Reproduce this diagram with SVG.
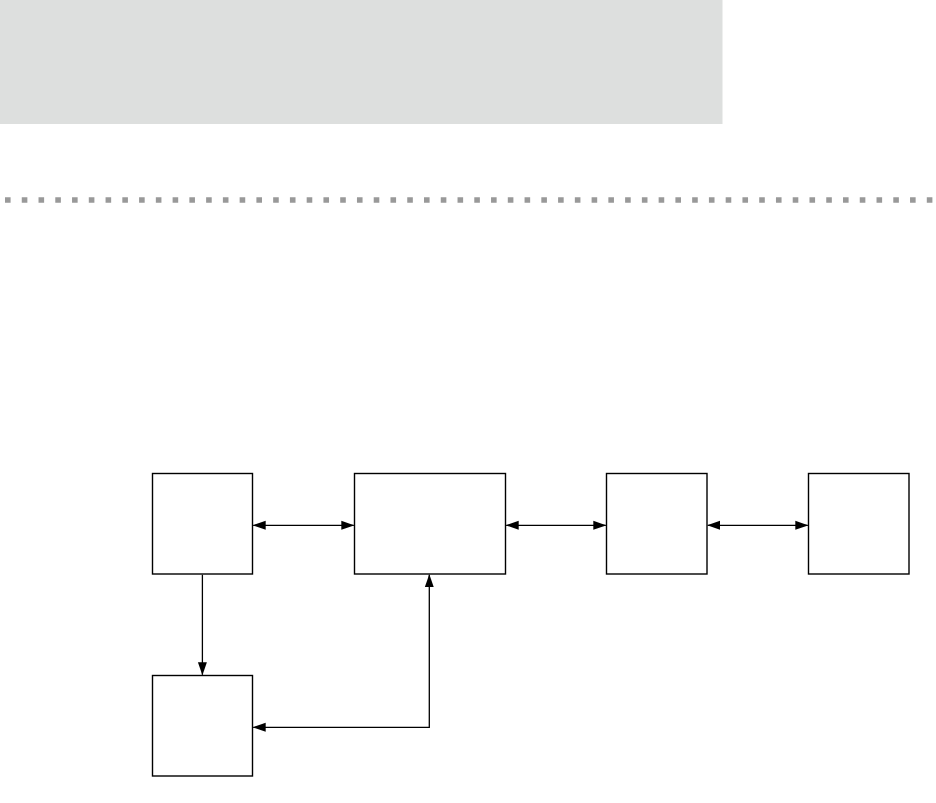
<svg xmlns="http://www.w3.org/2000/svg" width="936" height="803" viewBox="0 0 936 803">
<defs>
<style>
.node{fill:#ffffff;stroke:#000000;stroke-width:1.4}
.conn{fill:none;stroke:#000000;stroke-width:1.3}
</style>
<marker id="ah" markerUnits="userSpaceOnUse" markerWidth="13" markerHeight="10" refX="12.5" refY="4.5" orient="auto-start-reverse" viewBox="0 0 13 9">
<path d="M0,0 L13,4.5 L0,9 Z" fill="#000000"/>
</marker>
</defs>
<rect x="0" y="0" width="722.5" height="124" fill="#dddfde"/>
<line x1="5" y1="200" x2="934" y2="200" stroke="#999999" stroke-width="5.6" stroke-dasharray="5.6 11.16"/>
<g id="nodes">
<g id="n1"><rect class="node" x="152.5" y="473.5" width="100" height="100.5"/></g>
<g id="n2"><rect class="node" x="354.5" y="473.5" width="151" height="100.5"/></g>
<g id="n3"><rect class="node" x="606.5" y="473.5" width="100.5" height="100.5"/></g>
<g id="n4"><rect class="node" x="808.5" y="473.5" width="100.5" height="100.5"/></g>
<g id="n5"><rect class="node" x="152.5" y="675.5" width="100" height="100.5"/></g>
</g>
<g id="connectors">
<line class="conn" x1="253.2" y1="525.3" x2="353.8" y2="525.3" marker-start="url(#ah)" marker-end="url(#ah)"/>
<line class="conn" x1="506.2" y1="525.3" x2="605.8" y2="525.3" marker-start="url(#ah)" marker-end="url(#ah)"/>
<line class="conn" x1="707.7" y1="525.3" x2="807.8" y2="525.3" marker-start="url(#ah)" marker-end="url(#ah)"/>
<line class="conn" x1="202.4" y1="574.7" x2="202.4" y2="674.8" marker-end="url(#ah)"/>
<polyline class="conn" points="253.2,727.3 429.3,727.3 429.3,574.7" marker-start="url(#ah)" marker-end="url(#ah)"/>
</g>
</svg>
